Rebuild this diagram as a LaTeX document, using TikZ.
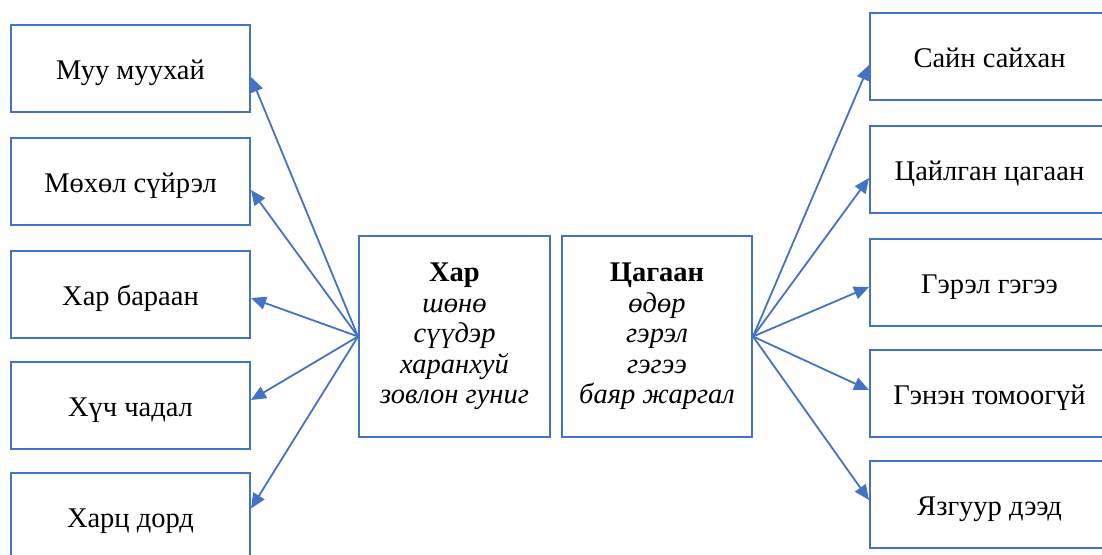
\documentclass[tikz,border=0pt]{standalone}
\usepackage{fontspec}
\setmainfont{Liberation Serif}
\usetikzlibrary{arrows.meta}
\definecolor{ob}{HTML}{4472C4}
\begin{document}
\begin{tikzpicture}[x=1pt,y=-1pt,
  box/.style={draw=ob,line width=2pt,fill=white,inner sep=0pt,
    font=\fontsize{28.5}{30.5}\selectfont,align=center},
  sidebox/.style={box,minimum width=239pt,minimum height=87pt,text height=28pt,text depth=6pt},
  arr/.style={draw=ob,line width=1.8pt,-{Triangle[length=15pt,width=13pt]}}]
\useasboundingbox (0,0) rectangle (1102,554);
% left boxes
\node[sidebox] (l1) at (130.5,68.5) {Муу муухай};
\node[sidebox] (l2) at (130.5,181.5) {Мөхөл сүйрэл};
\node[sidebox] (l3) at (130.5,294.5) {Хар бараан};
\node[sidebox] (l4) at (130.5,405) {Хүч чадал};
\node[sidebox] (l5) at (130.5,516.5) {Харц дорд};
% right boxes
\node[sidebox] (r1) at (989.5,56.5) {Сайн сайхан};
\node[sidebox] (r2) at (989.5,169) {Цайлган цагаан};
\node[sidebox] (r3) at (989.5,282) {Гэрэл гэгээ};
\node[sidebox] (r4) at (989.5,393) {Гэнэн томоогүй};
\node[sidebox] (r5) at (989.5,504) {Язгуур дээд};
% centre boxes
\node[box,minimum width=191pt,minimum height=201pt] (har) at (454.5,336.5)
  {\textbf{Хар}\\\textit{шөнө}\\\textit{сүүдэр}\\\textit{харанхуй}\\\textit{зовлон гуниг}};
\node[box,minimum width=190pt,minimum height=201pt] (tsag) at (657,336.5)
  {\textbf{Цагаан}\\\textit{өдөр}\\\textit{гэрэл}\\\textit{гэгээ}\\\textit{баяр жаргал}};
% arrows
\draw[arr] (har.west) -- ([yshift=-8.5pt]l1.east);
\draw[arr] (har.west) -- ([yshift=-8.5pt]l2.east);
\draw[arr] (har.west) -- ([yshift=-3.5pt]l3.east);
\draw[arr] (har.west) -- ([yshift=5pt]l4.east);
\draw[arr] (har.west) -- ([yshift=8pt]l5.east);
\draw[arr] (tsag.east) -- ([yshift=-8.5pt]r1.west);
\draw[arr] (tsag.east) -- ([yshift=-9pt]r2.west);
\draw[arr] (tsag.east) -- ([yshift=-5pt]r3.west);
\draw[arr] (tsag.east) -- ([yshift=3pt]r4.west);
\draw[arr] (tsag.east) -- ([yshift=4pt]r5.west);
\end{tikzpicture}
\end{document}
